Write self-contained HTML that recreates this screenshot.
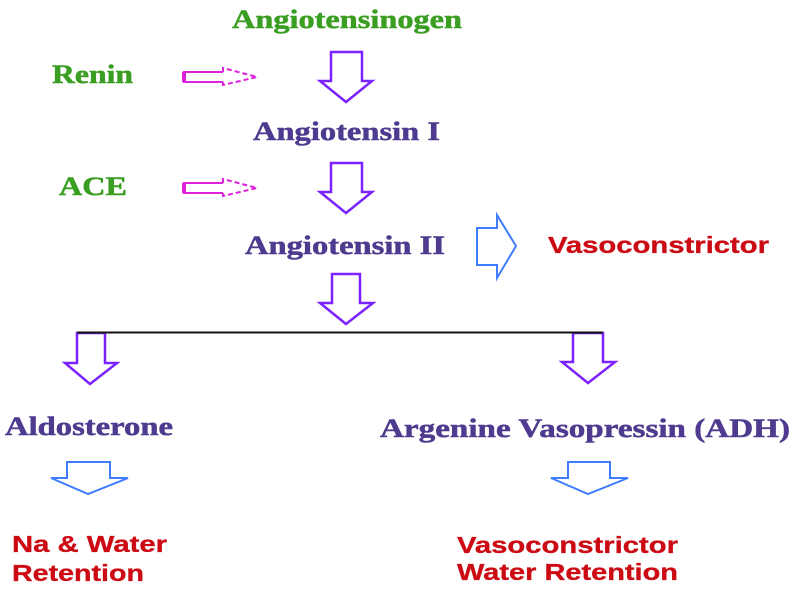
<!DOCTYPE html>
<html>
<head>
<meta charset="utf-8">
<style>
  html,body{margin:0;padding:0;background:#ffffff;}
  svg{display:block;}
  .serif{font-family:"Liberation Serif","Times New Roman",serif;font-weight:bold;font-size:26px;stroke-width:0.5px;}
  .sans{font-family:"Liberation Sans",Arial,sans-serif;font-weight:bold;font-size:23px;stroke-width:0.3px;}
</style>
</head>
<body>
<svg width="794" height="591" viewBox="0 0 794 591" xmlns="http://www.w3.org/2000/svg">
  <rect width="794" height="591" fill="#ffffff"/>

  <!-- Green labels -->
  <text class="serif" x="232" y="28" fill="#3a9e22" stroke="#3a9e22" textLength="230" lengthAdjust="spacingAndGlyphs">Angiotensinogen</text>
  <text class="serif" x="52" y="83" fill="#3a9e22" stroke="#3a9e22" textLength="81" lengthAdjust="spacingAndGlyphs">Renin</text>
  <text class="serif" x="59" y="195" fill="#3a9e22" stroke="#3a9e22" textLength="68" lengthAdjust="spacingAndGlyphs">ACE</text>

  <!-- Purple labels -->
  <text class="serif" x="253" y="140" fill="#4e3a8e" stroke="#4e3a8e" textLength="187" lengthAdjust="spacingAndGlyphs">Angiotensin I</text>
  <text class="serif" x="245" y="254" fill="#4e3a8e" stroke="#4e3a8e" textLength="200" lengthAdjust="spacingAndGlyphs">Angiotensin II</text>
  <text class="serif" x="5" y="435" fill="#4e3a8e" stroke="#4e3a8e" textLength="168" lengthAdjust="spacingAndGlyphs">Aldosterone</text>
  <text class="serif" x="380" y="437" fill="#4e3a8e" stroke="#4e3a8e" textLength="410" lengthAdjust="spacingAndGlyphs">Argenine Vasopressin (ADH)</text>

  <!-- Red labels -->
  <text class="sans" x="548" y="253" fill="#cc0a14" stroke="#cc0a14" textLength="221" lengthAdjust="spacingAndGlyphs">Vasoconstrictor</text>
  <text class="sans" x="12" y="552" fill="#cc0a14" stroke="#cc0a14" textLength="155" lengthAdjust="spacingAndGlyphs">Na &amp; Water</text>
  <text class="sans" x="12" y="581" fill="#cc0a14" stroke="#cc0a14" textLength="132" lengthAdjust="spacingAndGlyphs">Retention</text>
  <text class="sans" x="457" y="553" fill="#cc0a14" stroke="#cc0a14" textLength="221" lengthAdjust="spacingAndGlyphs">Vasoconstrictor</text>
  <text class="sans" x="457" y="580" fill="#cc0a14" stroke="#cc0a14" textLength="221" lengthAdjust="spacingAndGlyphs">Water Retention</text>

  <!-- Magenta arrows -->
  <g fill="none" stroke="#dd22dd" stroke-width="2">
    <path d="M223,72 L184,72 L184,82 L223,82"/>
    <path d="M184,72 L184,82" stroke-width="4"/>
    <path d="M223,72 L223,68 L257,77 L223,85 L223,82" stroke-dasharray="5,3"/>
    <path d="M223,183 L184,183 L184,193 L223,193"/>
    <path d="M184,183 L184,193" stroke-width="4"/>
    <path d="M223,183 L223,179 L257,188 L223,196 L223,193" stroke-dasharray="5,3"/>
  </g>

  <!-- Purple down arrows -->
  <g fill="#ffffff" stroke="#7a22ff" stroke-width="2.5" stroke-linejoin="miter">
    <polygon points="331,52 362,52 362,81 372,81 346,102 320,81 331,81"/>
    <polygon points="331,163 362,163 362,192 372,192 346,213 320,192 331,192"/>
    <polygon points="332,274 360,274 360,303 373,303 346,324 320,303 332,303"/>
    <polygon points="77,333 105,333 105,363 117,363 90,384 65,363 77,363"/>
    <polygon points="573,333 603,333 603,362 615,362 588,383 562,362 573,362"/>
  </g>

  <!-- Horizontal line -->
  <line x1="77" y1="332.5" x2="603" y2="332.5" stroke="#111111" stroke-width="2"/>

  <!-- Blue arrows -->
  <g fill="#ffffff" stroke="#3f7cff" stroke-width="2" stroke-linejoin="miter">
    <polygon points="477,228 497,228 497,215 516,246 497,278 497,265 477,265"/>
    <polygon points="67,462 110,462 110,478 128,478 88,494 51,478 67,478"/>
    <polygon points="568,462 610,462 610,478 628,478 588,494 551,478 568,478"/>
  </g>
</svg>
</body>
</html>
